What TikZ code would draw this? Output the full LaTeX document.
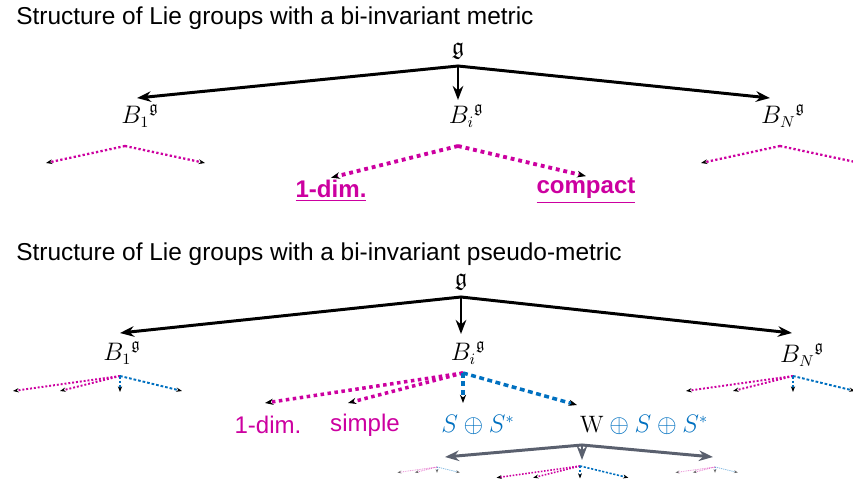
\documentclass[tikz,border=0pt]{standalone}
\usepackage{amssymb}
\usepackage{fontspec}
\newfontfamily\arialfont{Liberation Sans}
\usetikzlibrary{arrows.meta, positioning}

\definecolor{lieMag}{RGB}{204,0,160}
\definecolor{lieBlue}{RGB}{0,112,192}
\definecolor{lieGray}{RGB}{90,96,110}

\tikzset{
  headline/.style={font=\arialfont\fontsize{13.9}{16}\selectfont, anchor=west, inner sep=0pt},
  alg/.style={font=\fontsize{13.5}{15}\selectfont, inner sep=1pt},
  topalg/.style={font=\fontsize{14}{15}\selectfont, inner sep=0pt, anchor=south, outer sep=4pt},
  leaf/.style={font=\arialfont\fontsize{13.7}{16}\selectfont, text=lieMag, inner sep=1pt},
  bleaf/.style={font=\arialfont\bfseries\fontsize{13.7}{16}\selectfont, text=lieMag, inner sep=1pt},
  sumnode/.style={font=\fontsize{13.5}{15}\selectfont, text=lieBlue, inner sep=1pt},
  arrow/.style={-{Stealth[length=8pt, width=6pt]}, draw=black, line width=1.7pt, line cap=round},
  garrow/.style={arrow, draw=lieGray},
  mdot/.style={draw=lieMag, dash pattern=on \pgflinewidth off \pgflinewidth,
               -{Stealth[length=1.5pt 1.6, color=black]}},
  bdot/.style={draw=lieBlue, dash pattern=on 1.4\pgflinewidth off \pgflinewidth,
               -{Stealth[length=1.5pt 1.6, color=black]}},
  magtree/.pic={
    \draw[mdot] (0,0) -- (-79,17);
    \draw[mdot] (0,0) -- (80,17);
  },
  pseudotree/.pic={
    \draw[mdot] (0,0) -- (-107,15);
    \draw[mdot] (0,0) -- (-60,15);
    \draw[bdot] (0,0) -- (0,16);
    \draw[bdot] (0,0) -- (62,15);
  },
}

\begin{document}
\begin{tikzpicture}[x=0.02cm, y=-0.02cm]
  \useasboundingbox (0,0) rectangle (853,484);

  % Bi-invariant metric
  \node[headline] (head1) at (16,18) {Structure of Lie groups with a bi-invariant metric};
  \node[topalg] (g1) at (458,66) {$\mathfrak{g}$};
  \node[alg] (b1) at (140,116) {${B_1}^{\mathfrak{g}}$};
  \node[alg] (bi) at (466,116) {${B_i}^{\mathfrak{g}}$};
  \node[alg] (bn) at (783,116) {${B_N}^{\mathfrak{g}}$};
  \coordinate (b1tip) at (137,98);
  \coordinate (bitip) at (458,100);
  \coordinate (bntip) at (770,98);
  \draw[arrow] (g1.south) -- (b1tip);
  \draw[arrow] (g1.south) -- (bitip);
  \draw[arrow] (g1.south) -- (bntip);

  \pic[line width=1.3pt] at (125,146) {magtree};
  \pic[line width=1.3pt] at (780,146) {magtree};

  \node[bleaf] (dimA) at (331,191) {\underline{1-dim.}};
  \node[bleaf] (cpt) at (586,191) {\underline{compact}};
  \coordinate (bitop) at (458,146);
  \draw[line width=2.2pt, mdot] (bitop) -- (dimA.north);
  \draw[line width=2.2pt, mdot] (bitop) -- (cpt.north);

  % Bi-invariant pseudo-metric
  \node[headline] (head2) at (16,254) {Structure of Lie groups with a bi-invariant pseudo-metric};
  \node[topalg] (g2) at (461,297) {$\mathfrak{g}$};
  \node[alg] (b1p) at (122,353) {${B_1}^{\mathfrak{g}}$};
  \node[alg] (bip) at (468,353) {${B_i}^{\mathfrak{g}}$};
  \node[alg] (bnp) at (802,355) {${B_N}^{\mathfrak{g}}$};
  \coordinate (b1ptip) at (120,333);
  \coordinate (biptip) at (461,334);
  \coordinate (bnptip) at (792,333);
  \draw[arrow] (g2.south) -- (b1ptip);
  \draw[arrow] (g2.south) -- (biptip);
  \draw[arrow] (g2.south) -- (bnptip);

  \pic[line width=1.1pt] at (120,376) {pseudotree};
  \pic[line width=1.1pt] at (793,376) {pseudotree};

  \node[leaf] (dimB) at (268,425) {1-dim.};
  \node[leaf] (simp) at (365,425) {simple};
  \node[sumnode] (ssum) at (478,425) {$S\oplus S^{*}$};
  \node[sumnode] (wsum) at (644,425) {$\textcolor{black}{\mathrm{W}}\oplus S\oplus S^{*}$};
  \coordinate (bi2top) at (463,373);
  \coordinate (dimBtip) at (265,403);
  \coordinate (simptip) at (348,403);
  \coordinate (ssumtip) at (463,403);
  \coordinate (wsumtip) at (577,405);
  \draw[line width=2pt, mdot] (bi2top) -- (dimBtip);
  \draw[line width=2pt, mdot] (bi2top) -- (simptip);
  \draw[line width=2pt, bdot] (bi2top) -- (ssumtip);
  \draw[line width=2pt, bdot] (bi2top) -- (wsumtip);

  % W part splits again
  \coordinate (wsplit) at (582,445);
  \coordinate (wleft) at (445,457);
  \coordinate (wdown) at (582,460);
  \coordinate (wright) at (713,457);
  \draw[garrow] (wsplit) -- (wleft);
  \draw[garrow] (wsplit) -- (wdown);
  \draw[garrow] (wsplit) -- (wright);

  \pic[scale=0.37, line width=0.5pt, opacity=0.45] at (437,467) {pseudotree};
  \pic[scale=0.78, line width=0.9pt] at (580,466) {pseudotree};
  \pic[scale=0.37, line width=0.5pt, opacity=0.45] at (715,467) {pseudotree};
\end{tikzpicture}
\end{document}
